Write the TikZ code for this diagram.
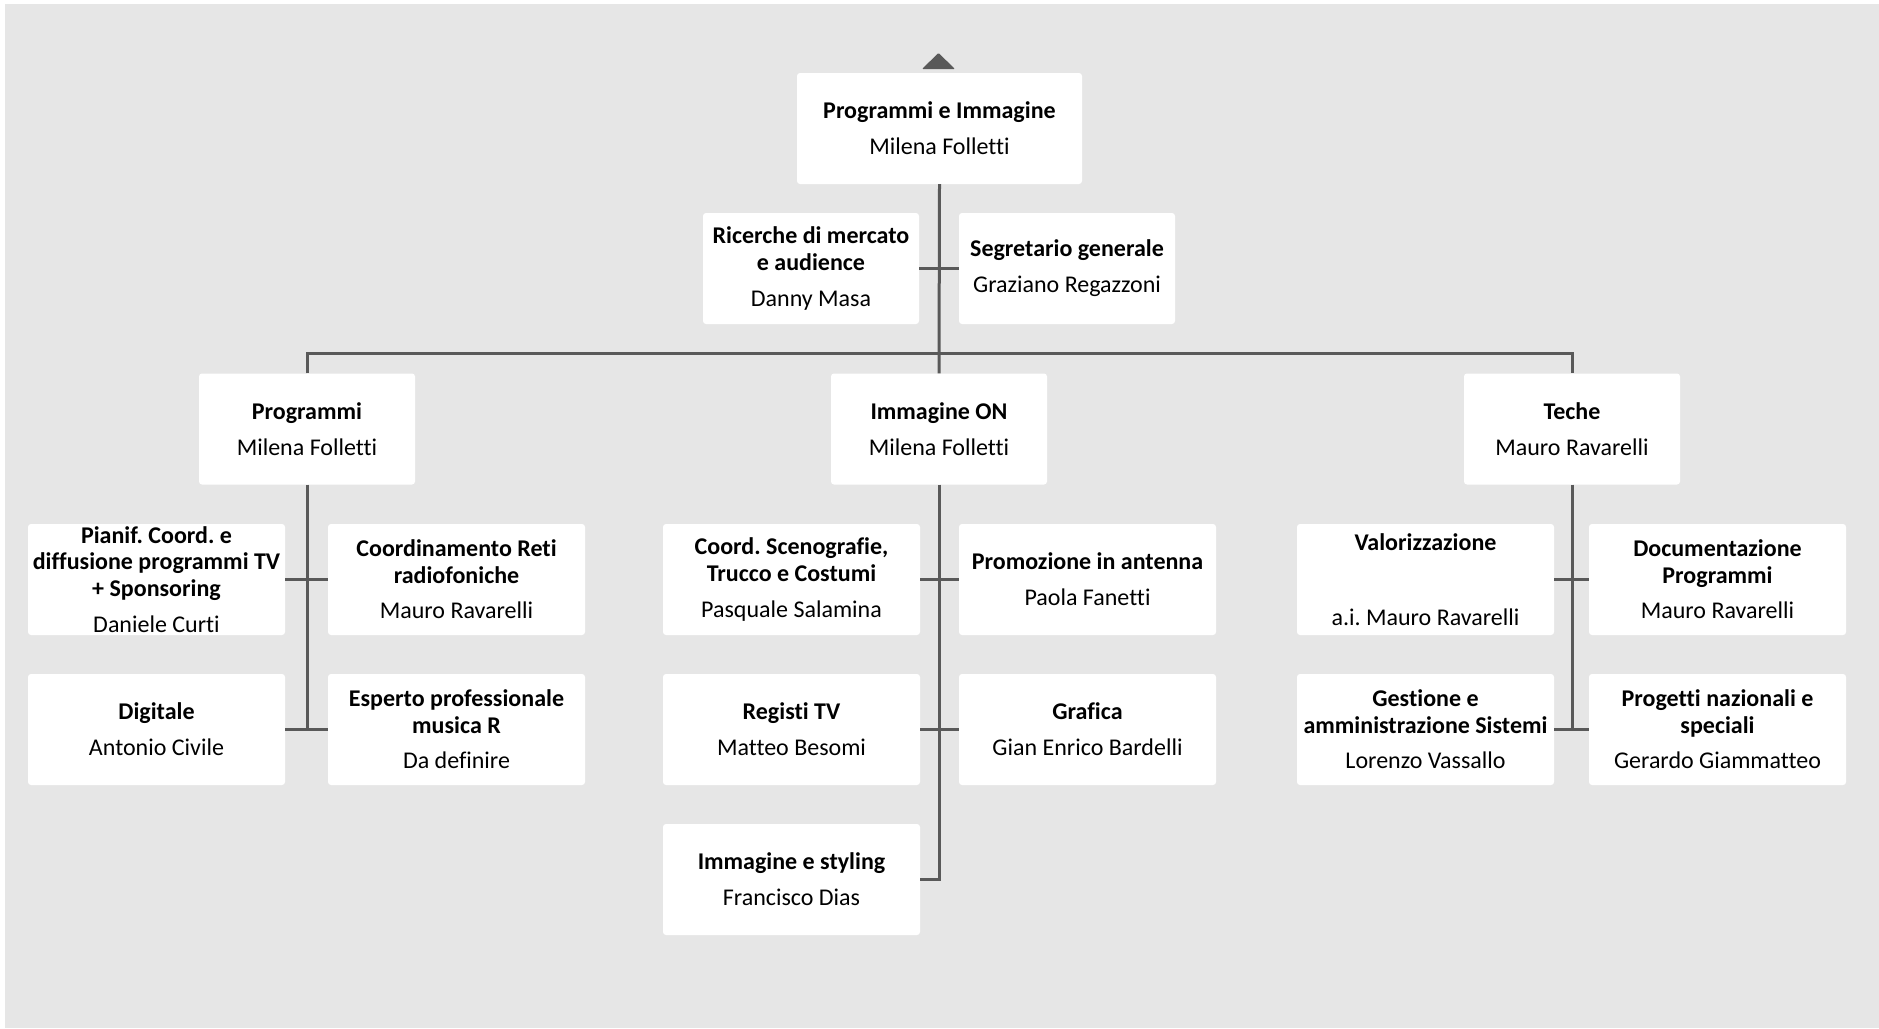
\documentclass[tikz,border=0pt]{standalone}
\usepackage{fontspec}
\setmainfont{Carlito}[Ligatures=NoCommon]
\frenchspacing
\definecolor{bgC}{RGB}{230,230,230}
\definecolor{lineC}{RGB}{89,89,89}
\tikzset{
  orgbox/.style={fill=white, rounded corners=3pt, inner sep=0pt, align=center,
    font=\fontsize{24}{26.4}\selectfont, text=black},
  lvtwo/.style={orgbox, minimum width=216pt, minimum height=111pt},
  lvthree/.style={orgbox, minimum width=257pt, minimum height=111pt},
  topbox/.style={orgbox, minimum width=285pt, minimum height=111pt},
  conn/.style={draw=lineC, line width=3pt},
}
\newcommand{\tl}[1]{{\bfseries #1}}
\begin{document}
\begin{tikzpicture}[x=1pt,y=-1pt]
\useasboundingbox (0,0) rectangle (1879,1028);
\fill[bgC] (5,4) rectangle (1879,1028);

% up marker
\fill[lineC, rounded corners=1pt] (922,69) -- (938.5,53) -- (955,69) -- cycle;

% top
\node[topbox] (top) at (939.5,128.5) {\tl{Programmi e Immagine}\\[9.5pt]Milena Folletti};
\node[lvtwo] (ric) at (811,268.5) {\tl{Ricerche di mercato}\\\tl{e audience}\\[9.5pt]Danny Masa};
\node[lvtwo] (seg) at (1067,268.5) {\tl{Segretario generale}\\[9.5pt]Graziano Regazzoni};

% level 2
\node[lvtwo] (prog) at (307,429) {\tl{Programmi}\\[9.5pt]Milena Folletti};
\node[lvtwo] (imm) at (939,429) {\tl{Immagine ON}\\[9.5pt]Milena Folletti};
\node[lvtwo] (teche) at (1572,429) {\tl{Teche}\\[9.5pt]Mauro Ravarelli};

% Programmi children
\node[lvthree] (pianif) at (156.5,579.5) {\tl{Pianif. Coord. e}\\\tl{diffusione programmi TV}\\\tl{+ Sponsoring}\\[9.5pt]Daniele Curti};
\node[lvthree] (reti) at (456.5,579.5) {\tl{Coordinamento Reti}\\\tl{radiofoniche}\\[9.5pt]Mauro Ravarelli};
\node[lvthree] (dig) at (156.5,729.5) {\tl{Digitale}\\[9.5pt]Antonio Civile};
\node[lvthree] (esp) at (456.5,729.5) {\tl{Esperto professionale}\\\tl{musica R}\\[9.5pt]Da definire};

% Immagine children
\node[lvthree] (sceno) at (791.5,579.5) {\tl{Coord. Scenografie,}\\\tl{Trucco e Costumi}\\[9.5pt]Pasquale Salamina};
\node[lvthree] (promo) at (1087.5,579.5) {\tl{Promozione in antenna}\\[9.5pt]Paola Fanetti};
\node[lvthree] (regi) at (791.5,729.5) {\tl{Registi TV}\\[9.5pt]Matteo Besomi};
\node[lvthree] (graf) at (1087.5,729.5) {\tl{Grafica}\\[9.5pt]Gian Enrico Bardelli};
\node[lvthree] (styl) at (791.5,879.5) {\tl{Immagine e styling}\\[9.5pt]Francisco Dias};

% Teche children
\node[lvthree] (valo) at (1425.5,579.5) {\tl{Valorizzazione}\\[48pt]a.i. Mauro Ravarelli};
\node[lvthree] (docu) at (1717.5,579.5) {\tl{Documentazione}\\\tl{Programmi}\\[9.5pt]Mauro Ravarelli};
\node[lvthree] (gest) at (1425.5,729.5) {\tl{Gestione e}\\\tl{amministrazione Sistemi}\\[9.5pt]Lorenzo Vassallo};
\node[lvthree] (prnaz) at (1717.5,729.5) {\tl{Progetti nazionali e}\\\tl{speciali}\\[9.5pt]Gerardo Giammatteo};

% connectors
\begin{scope}[conn]
\draw (top.south) -- (imm.north);
\draw (ric.east) -- (seg.west);
\draw (prog.north) -- ++(0,-20) -| (teche.north);

\draw (prog.south) -- (prog.south |- dig.east);
\draw (pianif.east) -- (reti.west);
\draw (dig.east) -- (esp.west);

\draw (imm.south) |- (styl.east);
\draw (sceno.east) -- (promo.west);
\draw (regi.east) -- (graf.west);

\draw (teche.south) -- (teche.south |- gest.east);
\draw (valo.east) -- (docu.west);
\draw (gest.east) -- (prnaz.west);
\end{scope}
\end{tikzpicture}
\end{document}
